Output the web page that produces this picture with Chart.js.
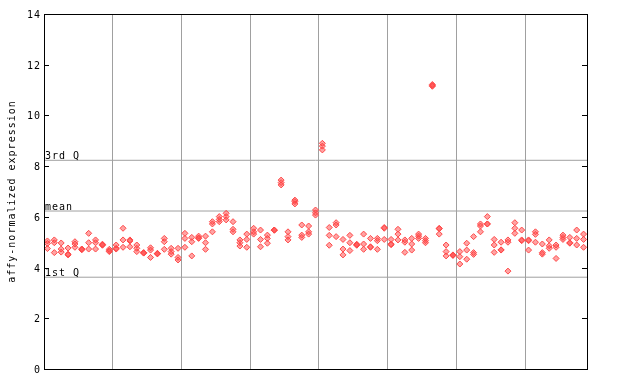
<!DOCTYPE html>
<html>
<head>
<meta charset="utf-8">
<script src="https://cdn.jsdelivr.net/npm/chart.js@4.4.0/dist/chart.umd.min.js"></script>
<style>
  html, body { margin: 0; padding: 0; background: #fff; }
  #wrap { width: 640px; height: 384px; }
</style>
</head>
<body>
<div id="wrap"><canvas id="myChart" width="640" height="384"></canvas></div>
<script>
// Replicate values per sample (79 samples, 3 replicates each)
const rep1 = [5.05, 5.09, 4.97, 4.77, 5.02, 4.73, 5.35, 5.09, 4.92, 4.72,
  4.89, 5.55, 5.09, 4.89, 4.59, 4.78, 4.56, 5.15, 4.76, 4.76,
  5.35, 5.19, 5.24, 5.24, 5.81, 6.01, 6.14, 5.81, 5.09, 5.32,
  5.55, 5.48, 5.28, 5.48, 7.45, 5.41, 6.66, 5.68, 5.64, 6.27,
  8.90, 5.58, 5.77, 5.11, 5.27, 4.92, 5.32, 5.15, 5.15, 5.58,
  5.11, 5.51, 5.09, 5.15, 5.32, 5.15, 11.22, 5.55, 4.89, 4.50,
  4.63, 4.96, 5.22, 5.72, 6.01, 5.11, 5.00, 5.09, 5.77, 5.48,
  5.09, 5.41, 4.93, 5.09, 4.89, 5.28, 5.19, 5.48, 5.32];
const rep2 = [4.95, 4.98, 4.73, 4.53, 4.93, 4.73, 4.98, 4.98, 4.88, 4.63,
  4.73, 5.09, 5.05, 4.76, 4.57, 4.69, 4.54, 5.02, 4.63, 4.40,
  5.15, 5.02, 5.15, 4.98, 5.72, 5.90, 6.01, 5.51, 4.98, 5.11,
  5.41, 5.11, 5.15, 5.48, 7.35, 5.22, 6.60, 5.28, 5.41, 6.16,
  8.79, 5.27, 5.68, 4.73, 4.98, 4.90, 4.93, 4.80, 5.06, 5.55,
  4.93, 5.32, 5.00, 4.93, 5.24, 5.06, 11.15, 5.53, 4.63, 4.48,
  4.43, 4.69, 4.59, 5.64, 5.72, 4.89, 4.69, 5.00, 5.55, 5.09,
  5.06, 5.31, 4.59, 4.86, 4.80, 5.19, 4.98, 5.15, 5.11];
const rep3 = [4.75, 4.59, 4.61, 4.50, 4.80, 4.70, 4.73, 4.73, 4.90, 4.66,
  4.76, 4.80, 4.82, 4.63, 4.58, 4.40, 4.55, 4.72, 4.53, 4.30,
  4.80, 4.46, 5.17, 4.72, 5.41, 5.81, 5.88, 5.41, 4.85, 4.80,
  5.32, 4.82, 4.96, 5.47, 7.26, 5.09, 6.51, 5.19, 5.32, 6.07,
  8.64, 4.88, 5.22, 4.50, 4.67, 4.88, 4.72, 4.82, 4.72, 5.11,
  4.90, 5.09, 4.60, 4.69, 5.15, 4.98, 11.18, 5.32, 4.46, 4.49,
  4.14, 4.33, 4.52, 5.41, 5.72, 4.60, 4.70, 3.86, 5.35, 5.06,
  4.69, 5.00, 4.53, 4.76, 4.36, 5.11, 4.96, 4.89, 4.80];

const yTicks = [0, 2, 4, 6, 8, 10, 12, 14];
const xGrid = [10, 20, 30, 40, 50, 60, 70];
const refValues = [3.62, 6.23, 8.23];
const refLabels = ['1st Q', 'mean', '3rd Q'];
const yTitle = 'affy-normalized expression';
const nSamples = rep1.length;

const pointRed = '#ff4848';
const monoFont = '10px "DejaVu Sans Mono", monospace';

function toPoints(vals) {
  return vals.map(function(v, i) { return { x: i + 0.5, y: v }; });
}

function pointSet(vals) {
  return {
    type: 'scatter',
    data: toPoints(vals),
    pointStyle: 'rectRot',
    pointRadius: 3,
    borderWidth: 1,
    borderColor: pointRed,
    backgroundColor: 'rgba(255, 72, 72, 0.5)',
    order: 1
  };
}

function refSet(v) {
  return {
    type: 'line',
    data: [{ x: 0, y: v }, { x: nSamples, y: v }],
    borderColor: '#a0a0a0',
    borderWidth: 1,
    pointRadius: 0,
    order: 2
  };
}

// Frame, inward ticks, tick labels, quartile labels and axis title
const decorPlugin = {
  id: 'decor',
  afterDraw: function(chart) {
    const ctx = chart.ctx;
    const a = chart.chartArea;
    const ys = chart.scales.y;
    ctx.save();
    ctx.strokeStyle = '#000';
    ctx.lineWidth = 1;
    ctx.strokeRect(Math.round(a.left) + 0.5, Math.round(a.top) + 0.5,
      Math.round(a.right - a.left), Math.round(a.bottom - a.top));

    ctx.font = monoFont;
    ctx.letterSpacing = '1px';
    ctx.fillStyle = '#000';
    ctx.textAlign = 'right';
    ctx.textBaseline = 'middle';
    yTicks.forEach(function(t) {
      const py = Math.round(ys.getPixelForValue(t)) + 0.5;
      ctx.beginPath();
      ctx.moveTo(a.left, py);
      ctx.lineTo(a.left + 5, py);
      ctx.moveTo(a.right - 5, py);
      ctx.lineTo(a.right, py);
      ctx.stroke();
      ctx.fillText(String(t), a.left - 3, py + 0.5);
    });

    ctx.textAlign = 'left';
    ctx.textBaseline = 'alphabetic';
    refValues.forEach(function(v, i) {
      const py = ys.getPixelForValue(v);
      ctx.fillText(refLabels[i], a.left + 1, py - 1.5);
    });

    ctx.translate(12, (a.top + a.bottom) / 2);
    ctx.rotate(-Math.PI / 2);
    ctx.textAlign = 'center';
    ctx.textBaseline = 'middle';
    ctx.fillText(yTitle, 0, 0);
    ctx.restore();
  }
};

const ctx = document.getElementById('myChart');
const myChart = new Chart(ctx, {
  type: 'scatter',
  data: {
    datasets: [
      pointSet(rep1), pointSet(rep2), pointSet(rep3),
      refSet(refValues[0]), refSet(refValues[1]), refSet(refValues[2])
    ]
  },
  options: {
    responsive: false,
    animation: false,
    layout: { padding: { top: 14, right: 53, bottom: 15, left: 0 } },
    plugins: { legend: { display: false }, tooltip: { enabled: false } },
    scales: {
      x: {
        type: 'linear',
        min: 0,
        max: nSamples,
        afterBuildTicks: function(s) { s.ticks = xGrid.map(function(v) { return { value: v }; }); },
        afterFit: function(s) { s.height = 0; },
        ticks: { display: false },
        grid: { color: '#a0a0a0', lineWidth: 1, drawTicks: false },
        border: { display: false }
      },
      y: {
        min: 0,
        max: 14,
        afterFit: function(s) { s.width = 44; },
        ticks: { display: false },
        grid: { display: false, drawTicks: false },
        border: { display: false }
      }
    }
  },
  plugins: [decorPlugin]
});
</script>
</body>
</html>
